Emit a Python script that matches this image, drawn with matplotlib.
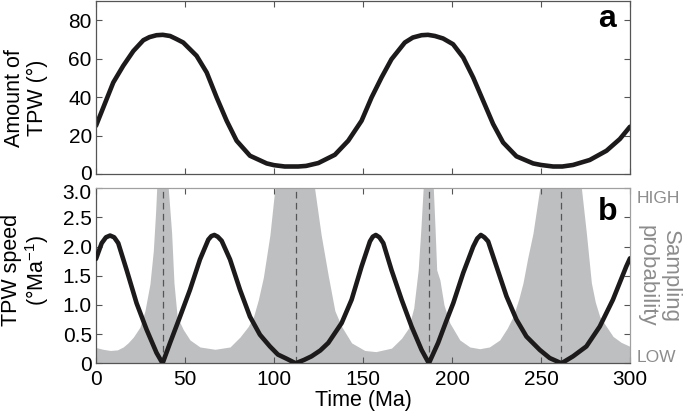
import numpy as np
import matplotlib
matplotlib.use("Agg")
from matplotlib import pyplot as plt
from matplotlib import transforms

plt.rcParams['font.family'] = ['Liberation Sans', 'DejaVu Sans']
plt.rcParams['mathtext.default'] = 'regular'

# panel a: amount of TPW (deg)
t_amt = [0, 4.1, 9.7, 15.3, 21, 26.6, 30, 34, 37.5, 41.6, 45, 49, 56.5, 62.2, 67.8, 73.4,
         79, 86.5, 95.9, 100, 106, 113.6, 118, 124.9, 134.2, 141.7, 149.2, 154.8, 160.4,
         166, 173.5, 178, 182.9, 186.5, 190.4, 195, 200.6, 206.3, 211.9, 217.5, 223.1,
         228.7, 236.2, 245.6, 250, 256.8, 262, 268, 277.4, 286.8, 294.3, 300]
amt = [25.1, 34.6, 47.6, 56.3, 64, 69.6, 71.2, 72.2, 72.4, 71.8, 70.3, 68.4, 61.5, 52.8,
       39.8, 27.7, 17.3, 9.5, 5.5, 4.6, 3.9, 3.9, 4.2, 5.7, 10, 17.3, 27.7, 39.8, 50.2,
       59.7, 68.4, 71, 72.2, 72.4, 71.8, 70.5, 67.5, 60.6, 50.2, 38.1, 26, 16.4, 9.2,
       5.5, 4.7, 3.9, 3.9, 4.7, 7.3, 12.1, 18.2, 24.6]

# panel b: TPW speed (deg/Ma)
t_spd = [0, 3.2, 5.6, 7.9, 10.2, 12.5, 17.2, 22.8, 28.4, 34, 37.4, 41.6, 47.2, 52.8, 58.4,
         63.1, 64.8, 66.5, 68.4, 70.6, 75.3, 80.9, 86.5, 92.1, 97.7, 102.2, 107, 112.2,
         117, 121.1, 126, 130.5, 138, 143.6, 149.2, 153.9, 155.5, 157.2, 159.2, 161.4,
         166, 171.7, 177.3, 182.9, 187, 192.2, 196.5, 200.7, 206.3, 211.9, 214.2, 216.2,
         218.2, 220.3, 225, 230.6, 236.2, 241.8, 249.3, 254.9, 261.5, 268, 275.5, 283,
         290.4, 297.9, 300]
spd = [1.79, 2.06, 2.16, 2.19, 2.16, 2.06, 1.6, 1.03, 0.58, 0.18, 0, 0.35, 0.8, 1.26, 1.78,
       2.12, 2.18, 2.2, 2.17, 2.1, 1.78, 1.26, 0.8, 0.49, 0.29, 0.15, 0.08, 0,
       0.06, 0.12, 0.22, 0.35, 0.69, 1.09, 1.66, 2.09, 2.17, 2.2, 2.16, 2.06,
       1.6, 1.09, 0.63, 0.23, 0, 0.35, 0.7, 1.03, 1.55, 2.0, 2.14, 2.2,
       2.16, 2.09, 1.66, 1.15, 0.75, 0.46, 0.23, 0.09, 0, 0.12, 0.29, 0.63,
       1.09, 1.66, 1.8]

# sampling probability (grey), capped at the top of the axis
t_prob = [0, 4, 8, 12, 15.3, 18, 21, 24.7, 27.5, 30.3, 32.2, 33.5, 34.1, 37.4, 40.6, 42.5,
          43.8, 45.6, 49, 52.8, 58.4, 66.9, 75.3, 80.9, 85.5, 88.4, 91.2, 94, 97.7, 100.5,
          112.2, 122.8, 126.5, 130.5, 134.2, 138, 143.6, 151, 157.2, 166, 171.7, 175.5,
          178.5, 181, 182.5, 183.8, 187, 189.5, 190.5, 191.4, 193.2, 195.5, 198.8, 204.4,
          210, 215.6, 221, 226.8, 231, 234.3, 237.5, 239.9, 242.5, 245.5, 249.3, 261.5,
          272.7, 275.5, 278.3, 280.5, 283, 290.5, 295, 300]
prob = [0.27, 0.24, 0.22, 0.23, 0.28, 0.35, 0.45, 0.62, 0.9, 1.36, 1.93, 2.6, 3.0, 3.0, 3.0,
        2.23, 1.38, 0.8, 0.58, 0.4, 0.28, 0.24, 0.28, 0.45, 0.63, 0.79, 1.09, 1.47, 2.2, 3.0,
        3.0, 3.0, 2.2, 1.5, 0.9, 0.63, 0.35, 0.22, 0.2, 0.26, 0.43, 0.6, 0.95, 1.6, 2.3,
        3.0, 3.0, 3.0, 2.3, 1.6, 1.43, 1.0, 0.69, 0.4, 0.28, 0.25, 0.28, 0.4, 0.6, 0.8, 1.1,
        1.38, 1.8, 2.23, 3.0, 3.0, 3.0, 2.23, 1.38, 1.05, 0.8, 0.46, 0.36, 0.29]

zero_times = [37.4, 112.2, 187, 261.5]

x_ticks = [0, 50, 100, 150, 200, 250, 300]
amt_ticks = [0, 20, 40, 60, 80]
spd_ticks = [0, 0.5, 1.0, 1.5, 2.0, 2.5, 3.0]
spd_labels = ["0", "0.5", "1.0", "1.5", "2.0", "2.5", "3.0"]

W, H = 685, 417
fig = plt.figure(figsize=(W / 100, H / 100), dpi=100)
ax1 = fig.add_axes([96 / W, 1 - 174 / H, 534 / W, 173 / H])
ax2 = fig.add_axes([96 / W, 1 - 363.3 / H, 534 / W, 175 / H])

line_col = "#1c1a1a"
spine_col = "#555555"

ax1.plot(t_amt, amt, color=line_col, lw=3.3, solid_capstyle="round", solid_joinstyle="round")
ax1.set_xlim(0, 300)
ax1.set_ylim(0, 90)
ax1.set_xticks(x_ticks)
ax1.set_xticklabels([])
ax1.set_yticks(amt_ticks)

ax2.fill_between(t_prob, 0, prob, color="#bebfc1", lw=0)
for t0 in zero_times:
    ax2.axvline(t0, color="#555555", lw=0.9, dashes=(5.3, 3.5))
ax2.plot(t_spd, spd, color=line_col, lw=3.3, solid_capstyle="round", solid_joinstyle="round",
         zorder=5)
ax2.set_xlim(0, 300)
ax2.set_ylim(0, 3)
ax2.set_xticks(x_ticks)
ax2.set_yticks(spd_ticks)
ax2.set_yticklabels(spd_labels)

for ax in (ax1, ax2):
    ax.tick_params(direction="in", top=True, right=True, length=4, width=0.8,
                   color=spine_col, labelsize=15, pad=3)
    ax.tick_params(axis="x", pad=5)
    for s in ax.spines.values():
        s.set_color(spine_col)
        s.set_linewidth(0.9)
for s in ("top", "right"):
    ax2.spines[s].set_color("#a0a0a0")

# the "0" of panel a and the "3.0" of panel b sit a little apart, as in the original
lbl = ax1.get_yticklabels()[0]
lbl.set_transform(lbl.get_transform() + transforms.ScaledTranslation(0, 2 / 100, fig.dpi_scale_trans))
lbl = ax2.get_yticklabels()[-1]
lbl.set_transform(lbl.get_transform() + transforms.ScaledTranslation(0, -3 / 100, fig.dpi_scale_trans))

fig.text(26 / W, 1 - 98 / H, "Amount of\nTPW (°)", rotation=90, ha="center", va="center",
         fontsize=15.5, linespacing=1.1)
fig.text(26 / W, 1 - 270 / H, "TPW speed\n(°Ma$^{-1}$)", rotation=90, ha="center",
         va="center", fontsize=15.5, linespacing=1.1)
ax2.set_xlabel("Time (Ma)", fontsize=15.5)
ax2.xaxis.set_label_coords(0.5, -0.155)

fig.text(598 / W, 1 - 27 / H, "a", fontsize=23, fontweight="bold", ha="left", va="baseline")
fig.text(598 / W, 1 - 220 / H, "b", fontsize=23, fontweight="bold", ha="left", va="baseline")

grey = "#8c8c8c"
fig.text(637 / W, 1 - 199 / H, "HIGH", fontsize=12.5, color=grey, ha="left", va="center")
fig.text(637 / W, 1 - 357.5 / H, "LOW", fontsize=12.5, color=grey, ha="left", va="center")
fig.text(659 / W, 1 - 276 / H, "Sampling\nprobability", fontsize=16, color=grey,
         rotation=270, ha="center", va="center", multialignment="center", linespacing=1.15)

fig.savefig("out.png", dpi=100)
